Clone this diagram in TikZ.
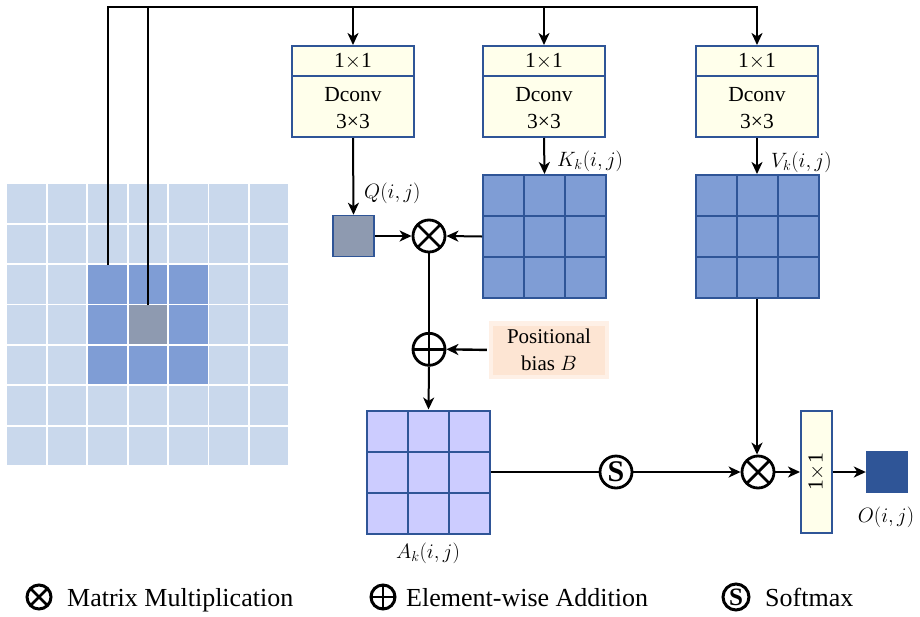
\documentclass[tikz,border=0pt]{standalone}
\usepackage{fontspec}
\setmainfont{Liberation Serif}
\usetikzlibrary{arrows.meta,calc}

\definecolor{lightcell}{HTML}{C9D8EC}
\definecolor{midcell}{HTML}{7F9DD5}
\definecolor{centcell}{HTML}{8E9AB0}
\definecolor{edgeblue}{HTML}{2F5597}
\definecolor{cream}{HTML}{FFFFEB}
\definecolor{attn}{HTML}{CCCCFF}
\definecolor{peach}{HTML}{FDE5D3}
\definecolor{peachsoft}{HTML}{FEF0E6}
\definecolor{outblue}{HTML}{2F5597}

\begin{document}
\begin{tikzpicture}[x=1pt,y=-1pt,
  conn/.style={line width=2pt},
  arr/.style={line width=2pt,-{Stealth[length=12pt,width=11pt,inset=3.5pt]}},
  boxfont/.style={font=\fontsize{21.5}{26}\selectfont},
  mathlabel/.style={font=\fontsize{21}{25}\selectfont,inner sep=0pt},
  convbox/.style={draw=edgeblue,line width=2pt,fill=cream,minimum width=122pt,minimum height=91pt,inner sep=0pt},
  grid3/.style={path picture={
    \foreach \t in {1,2}{
      \draw[edgeblue,line width=2pt]
        ($(path picture bounding box.north west)!\t/3!(path picture bounding box.north east)$) --
        ($(path picture bounding box.south west)!\t/3!(path picture bounding box.south east)$);
      \draw[edgeblue,line width=2pt]
        ($(path picture bounding box.north west)!\t/3!(path picture bounding box.south west)$) --
        ($(path picture bounding box.north east)!\t/3!(path picture bounding box.south east)$);
    }}},
  mat3/.style={draw=edgeblue,line width=2pt,minimum size=123pt,inner sep=0pt,grid3},
  op/.style={circle,draw,line width=2.8pt,minimum size=32pt,inner sep=0pt},
  otimesop/.style={op,path picture={
    \draw[line width=2.8pt] (path picture bounding box.north west) -- (path picture bounding box.south east)
      (path picture bounding box.north east) -- (path picture bounding box.south west);}},
  oplusop/.style={op,path picture={
    \draw[line width=2.8pt] (path picture bounding box.north) -- (path picture bounding box.south)
      (path picture bounding box.west) -- (path picture bounding box.east);}},
  softop/.style={op,font=\fontsize{30}{30}\selectfont\bfseries},
  legendtext/.style={font=\fontsize{26}{30}\selectfont,inner sep=0pt,anchor=base west}
]
\useasboundingbox (0,0) rectangle (920,616);

% input feature map, 7x7 cells
\foreach \i in {0,...,6}{
  \foreach \j in {0,...,6}{
    \fill[lightcell] (7.3+\i*40.4,184.2+\j*40.4) rectangle ++(38.6,38.6);
  }
}
\foreach \i in {2,3,4}{
  \foreach \j in {2,3,4}{
    \fill[midcell] (7.3+\i*40.4,184.2+\j*40.4) rectangle ++(38.6,38.6);
  }
}
\fill[centcell] (7.3+3*40.4,184.2+3*40.4) rectangle ++(38.6,38.6);

\coordinate (g1) at (108,265);
\coordinate (g2) at (148,305.4);
\coordinate (top) at (108,7);

% three 1x1 + Dconv 3x3 branches
\foreach \n/\x in {b1/353,b2/544,b3/757}{
  \node[convbox] (\n) at (\x,91.5) {};
  \draw[edgeblue,line width=2pt] ($(\n.north west)+(0,31)$) -- ($(\n.north east)+(0,31)$);
  \node[boxfont] at (\x,61.5) {1$\times$1};
  \node[boxfont] at (\x,95) {Dconv};
  \node[boxfont] at (\x,121) {3×3};
}

% query, key, value, attention
\node[draw=edgeblue,fill=centcell,line width=1.5pt,minimum size=41pt,inner sep=0pt] (Q) at (353.5,236) {};
\node[mat3,fill=midcell] (K) at (544.5,236.5) {};
\node[mat3,fill=midcell] (V) at (757,236.5) {};
\node[mat3,fill=attn] (A) at (428.5,472) {};

\node[otimesop] (ot1) at (429,236) {};
\node[oplusop] (op1) at (429,349.3) {};
\node[softop] (S) at (616,472) {S};
\node[otimesop] (ot2) at (758,472) {};

% positional bias
\fill[peachsoft] (489,321) rectangle (609,379);
\node[fill=peach,minimum width=112pt,minimum height=49pt,align=center,
      font=\fontsize{21}{27}\selectfont,inner sep=0pt] (B) at (549,350) {Positional\\bias $B$};

% output projection and result
\node[draw=edgeblue,fill=cream,line width=2pt,minimum width=31pt,minimum height=122pt,inner sep=0pt] (C) at (816.5,472) {};
\node[boxfont,rotate=90] at (C) {1$\times$1};
\node[fill=outblue,minimum size=42pt,inner sep=0pt] (O) at (887,472) {};

% labels
\node[mathlabel,anchor=west] at (364,193) {$Q(i,j)$};
\node[mathlabel,anchor=west] at (557,161) {$K_k(i,j)$};
\node[mathlabel,anchor=west] at (771,162) {$V_k(i,j)$};
\node[mathlabel] at (428,553) {$A_k(i,j)$};
\node[mathlabel] at (886,517) {$O(i,j)$};

% connectors
\draw[arr,line width=2.4pt] (g1) -- (top) -| (b3.north);
\draw[conn,line width=2.4pt] (g2) -- (g2 |- top);
\draw[arr] (b1.north |- top) -- (b1.north);
\draw[arr] (b2.north |- top) -- (b2.north);

\draw[arr] (b1.south) -- (Q.north);
\draw[arr] (b2.south) -- (K.north);
\draw[arr] (b3.south) -- (V.north);
\draw[arr] (Q.east) -- (ot1.west);
\draw[arr] (K.west) -- (ot1.east);
\draw[conn] (ot1.south) -- (op1.north);
\draw[arr,line width=2.4pt,shorten <=6pt] (B.west) -- (op1.east);
\draw[arr] (op1.south) -- (A.north);
\draw[conn] (A.east) -- (S.west);
\draw[arr] (S.east) -- (ot2.west);
\draw[arr] (V.south) -- (V.south |- ot2.north);
\draw[arr] (ot2.east) -- (C.west);
\draw[arr] (C.east) -- (O.west);

% legend
\node[otimesop,minimum size=24pt,line width=3pt] (l1) at (39,597) {};
\node[legendtext] at (67,606) {Matrix Multiplication};
\node[oplusop,minimum size=24pt,line width=3pt] (l2) at (383,597) {};
\node[legendtext] at (406,606) {Element-wise Addition};
\node[op,minimum size=26pt,line width=3pt,font=\fontsize{25}{25}\selectfont\bfseries] (l3) at (736,597) {S};
\node[legendtext] at (765,606) {Softmax};
\end{tikzpicture}
\end{document}
